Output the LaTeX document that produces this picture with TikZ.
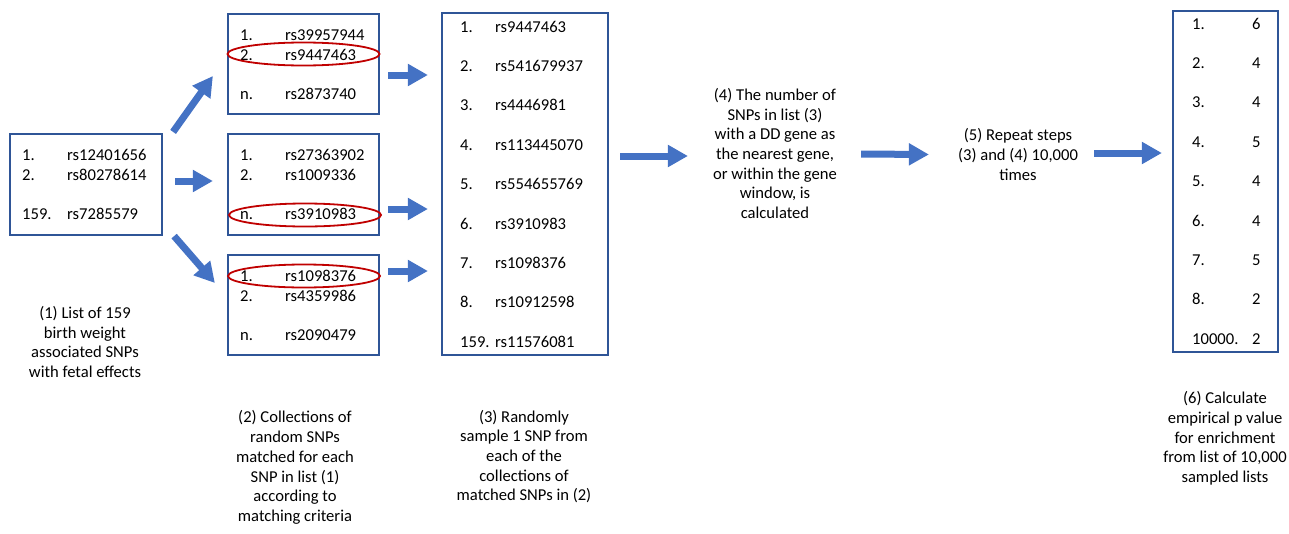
\documentclass[tikz,border=0pt]{standalone}
\usepackage{fontspec}
\setmainfont{Carlito}
\usepackage{tikz}
\usetikzlibrary{positioning, calc, arrows.meta, shapes.geometric}
\definecolor{boxblue}{HTML}{2F5597}
\definecolor{flowblue}{HTML}{4472C4}
\definecolor{pickred}{HTML}{C00000}

\begin{document}
\begin{tikzpicture}[
  x=1pt, y=-1pt,
  every node/.style={font=\fontsize{16.6}{19.7}\selectfont},
  listbox/.style={draw=boxblue, line width=2.2pt, inner sep=0pt},
  entry/.style={anchor=base west, inner sep=0pt},
  caption/.style={align=center, inner sep=0pt},
  pick/.style={draw=pickred, line width=1.8pt, ellipse, inner sep=0pt,
    minimum width=152pt, minimum height=23pt},
  flow/.style={draw=flowblue, line width=7pt,
    -{Triangle[length=20pt, width=21pt]}},
]
  \useasboundingbox (0,0) rectangle (1289,533);

  % (1) List of birth weight SNPs
  \node[listbox, minimum width=152pt, minimum height=101pt] (snps) at (86,184.5) {};
  \foreach \n/\id/\y [count=\i] in {1./rs12401656/160, 2./rs80278614/180, 159./rs7285579/219} {
    \node[entry] (snps-n\i) at (22,\y) {\n};
    \node[entry] (snps-r\i) at (67,\y) {\id};
  }
  \node[caption] (step1) at (85,342)
    {(1) List of 159\\birth weight\\associated SNPs\\with fetal effects};

  % (2) Collections of matched SNPs
  \node[listbox, minimum width=151pt, minimum height=100pt] (coll1) at (303.5,64) {};
  \node[listbox, minimum width=151pt, minimum height=101pt] (coll2) at (303.5,184.5) {};
  \node[listbox, minimum width=151pt, minimum height=100pt] (coll3) at (303.5,305) {};
  \foreach \top/\a/\b/\c/\k in {40/rs39957944/rs9447463/rs2873740/1,
                                160/rs27363902/rs1009336/rs3910983/2,
                                281/rs1098376/rs4359986/rs2090479/3} {
    \node[entry] (c\k-n1) at (240,\top) {1.};
    \node[entry] (c\k-r1) at (285,\top) {\a};
    \node[entry] (c\k-n2) at (240,\top+20) {2.};
    \node[entry] (c\k-r2) at (285,\top+20) {\b};
    \node[entry] (c\k-n3) at (240,\top+59) {n.};
    \node[entry] (c\k-r3) at (285,\top+59) {\c};
  }
  % Sampled SNP in each collection
  \node[pick] (pick1) at (303.5,54) {};
  \node[pick] (pick2) at (305,215) {};
  \node[pick] (pick3) at (304,276) {};
  \node[caption] (step2) at (295,467.5)
    {(2) Collections of\\random SNPs\\matched for each\\SNP in list (1)\\according to\\matching criteria};

  % (3) Sampled list
  \node[listbox, minimum width=166pt, minimum height=342pt] (sample) at (525,184) {};
  \foreach \n/\id [count=\i] in {1./rs9447463, 2./rs541679937, 3./rs4446981,
      4./rs113445070, 5./rs554655769, 6./rs3910983, 7./rs1098376,
      8./rs10912598, 159./rs11576081} {
    \node[entry] (s-n\i) at (460,{32+(\i-1)*39.4}) {\n};
    \node[entry] (s-r\i) at (495,{32+(\i-1)*39.4}) {\id};
  }
  \node[caption] (step3) at (524,456.5)
    {(3) Randomly\\sample 1 SNP from\\each of the\\collections of\\matched SNPs in (2)};

  % (4) and (5) Counting and repeating
  \node[caption] (step4) at (775,153.5)
    {(4) The number of\\SNPs in list (3)\\with a DD gene as\\the nearest gene,\\or within the gene\\window, is\\calculated};
  \node[caption] (step5) at (1018,154.5)
    {(5) Repeat steps\\(3) and (4) 10,000\\times};

  % (6) Counts over the sampled lists
  \node[listbox, minimum width=105pt, minimum height=341pt] (counts) at (1225.5,181.5) {};
  \foreach \n/\v [count=\i] in {1./6, 2./4, 3./4, 4./5, 5./4, 6./4, 7./5, 8./2, 10000./2} {
    \node[entry] (k-n\i) at (1192,{29+(\i-1)*39.4}) {\n};
    \node[entry] (k-v\i) at (1252,{29+(\i-1)*39.4}) {\v};
  }
  \node[caption] (step6) at (1225,438.5)
    {(6) Calculate\\empirical p value\\for enrichment\\from list of 10,000\\sampled lists};

  % Flow arrows
  \draw[flow] ($(snps.north east)+(10,-1)$) -- ($(coll1.west)+(-14,12)$);
  \draw[flow] ($(snps.east)+(12,-3.5)$) -- ($(coll2.west)+(-14,-3.5)$);
  \draw[flow] ($(snps.south east)+(11,0)$) -- ($(coll3.west)+(-12,-22)$);
  \draw[flow] ($(coll1.east)+(8,11)$) -- ($(coll1.east -| sample.west)+(-13,11)$);
  \draw[flow] ($(coll2.east)+(8,24.5)$) -- ($(coll2.east -| sample.west)+(-13,24.5)$);
  \draw[flow] ($(coll3.east)+(8,-34)$) -- ($(coll3.east -| sample.west)+(-13,-34)$);
  \draw[flow] ($(sample.east |- step4.west)+(11,2.5)$) -- ($(step4.west)+(-25,2.5)$);
  \draw[flow] ($(step4.east)+(24,0.5)$) -- ($(step5.west)+(-29,0)$);
  \draw[flow] ($(step5.east)+(16,-1.5)$) -- ($(counts.west |- step5.west)+(-10,-1.5)$);
\end{tikzpicture}
\end{document}
